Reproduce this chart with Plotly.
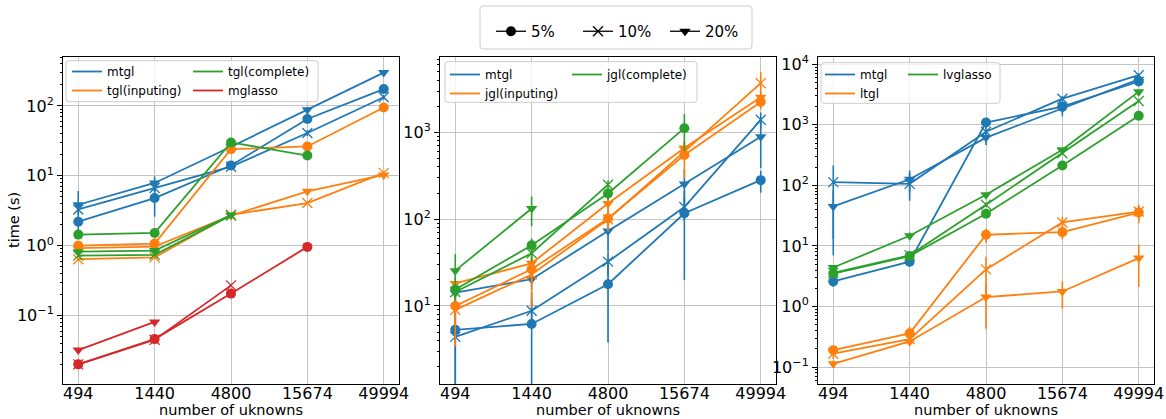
import plotly.graph_objects as go

W, H = 1166, 419

# ---------------- data ----------------
x_labels = ["494", "1440", "4800", "15674", "49994"]
pct_labels = ["5%", "10%", "20%"]

# Panel 1
p1_mtgl_5 = [2.2, 4.8, 14, 65, 174]
p1_mtgl_5_err = [0.3, 2.2, 1.5, 6, 15]
p1_mtgl_10 = [3.3, 6.7, 13.5, 41, 133]
p1_mtgl_10_err = [0.5, 0.8, 1, 4, 10]
p1_mtgl_20 = [3.85, 7.9, 26, 88, 300]
p1_mtgl_20_err = [2.2, 1.9, 2, 8, 25]
p1_tgli_5 = [1.0, 1.07, 24, 26.3, 95]
p1_tgli_5_err = [0.05, 0.05, 1, 1, 3]
p1_tgli_10 = [0.64, 0.68, 2.77, 4.07, 11]
p1_tgli_10_err = [0.03, 0.03, 0.1, 0.2, 0.5]
p1_tgli_20 = [0.92, 0.97, 2.7, 6.0, 10.3]
p1_tgli_20_err = [0.03, 0.03, 0.1, 0.3, 0.5]
p1_tglc_5 = [1.44, 1.52, 30, 19.5, None]
p1_tglc_5_err = [0.05, 0.05, 1.5, 1, 0]
p1_tglc_10 = [0.72, 0.74, 2.7, None, None]
p1_tglc_10_err = [0.03, 0.03, 0.1, 0, 0]
p1_tglc_20 = [0.82, 0.85, 2.75, None, None]
p1_tglc_20_err = [0.03, 0.03, 0.1, 0, 0]
p1_mgl_5 = [0.02, 0.046, 0.206, 0.96, None]
p1_mgl_5_err = [0.001, 0.002, 0.01, 0.03, 0]
p1_mgl_10 = [0.02, 0.045, 0.27, None, None]
p1_mgl_10_err = [0.001, 0.002, 0.01, 0, 0]
p1_mgl_20 = [0.032, 0.081, None, None, None]
p1_mgl_20_err = [0.001, 0.003, 0, 0, 0]

# Panel 2
p2_mtgl_5 = [5.3, 6.2, 17.8, 117, 282]
p2_mtgl_5_err = [8, 8, 14, 97, 80]
p2_mtgl_10 = [4.4, 8.8, 32.4, 138, 1400]
p2_mtgl_10_err = [6, 3, 10, 40, 300]
p2_mtgl_20 = [14.2, 20.3, 73, 254, 890]
p2_mtgl_20_err = [3, 5, 30, 120, 500]
p2_jgli_5 = [10, 26.5, 102, 550, 2250]
p2_jgli_5_err = [6.6, 17, 30, 250, 400]
p2_jgli_10 = [9, 23, 100, 600, 3700]
p2_jgli_10_err = [3, 5, 20, 100, 1300]
p2_jgli_20 = [18.2, 31, 152, 660, 2550]
p2_jgli_20_err = [3, 6, 30, 100, 400]
p2_jglc_5 = [15.5, 50, 198, 1120, None]
p2_jglc_5_err = [2, 10, 30, 510, 0]
p2_jglc_10 = [14.5, 40.5, 250, None, None]
p2_jglc_10_err = [2, 8, 30, 0, 0]
p2_jglc_20 = [25.5, 133, None, None, None]
p2_jglc_20_err = [14, 50, 0, 0, 0]

# Panel 3
p3_mtgl_5 = [2.6, 5.5, 1090, 2000, 5200]
p3_mtgl_5_err = [0.5, 1, 150, 300, 600]
p3_mtgl_10 = [113, 106, 770, 2700, 6600]
p3_mtgl_10_err = [100, 50, 200, 300, 500]
p3_mtgl_20 = [45, 126, 615, 1880, 5650]
p3_mtgl_20_err = [38, 50, 150, 500, 300]
p3_ltgl_5 = [0.19, 0.36, 15.3, 16.9, 35.6]
p3_ltgl_5_err = [0.03, 0.1, 4, 4, 12]
p3_ltgl_10 = [0.166, 0.29, 4.1, 24.4, 37]
p3_ltgl_10_err = [0.03, 0.05, 2.5, 6, 10]
p3_ltgl_20 = [0.113, 0.265, 1.43, 1.77, 6.3]
p3_ltgl_20_err = [0.015, 0.04, 1.0, 0.85, 4.2]
p3_lvg_5 = [3.5, 6.8, 34, 213, 1410]
p3_lvg_5_err = [0.3, 0.5, 3, 15, 100]
p3_lvg_10 = [3.6, 7.0, 48, 340, 2470]
p3_lvg_10_err = [0.3, 0.5, 4, 20, 150]
p3_lvg_20 = [4.4, 14.7, 70, 388, 3530]
p3_lvg_20_err = [0.4, 2, 5, 25, 200]

# ---------------- style ----------------
BLUE, ORANGE, GREEN, RED = "#1f77b4", "#ff7f0e", "#2ca02c", "#d62728"
FONT = "DejaVu Sans"


def px(x):
    return x / W


def py(y):
    return 1 - y / H


def marker_for(i, color):
    if i == 0:
        return dict(symbol="circle", size=10, color=color, line=dict(width=0))
    if i == 1:
        return dict(symbol="x-thin", size=10, color=color, line=dict(width=1.3, color=color))
    return dict(symbol="triangle-down", size=10, color=color, line=dict(width=0))


fig = go.Figure()


def add_method(ax, series, color):
    xa = "x" if ax == 1 else f"x{ax}"
    ya = "y" if ax == 1 else f"y{ax}"
    for i, (vals, errs) in enumerate(series):
        plus = [e if v is not None else 0 for v, e in zip(vals, errs)]
        minus = [(min(e, 0.9999 * v) if v is not None else 0) for v, e in zip(vals, errs)]
        fig.add_trace(go.Scatter(
            x=x_labels, y=vals, xaxis=xa, yaxis=ya, mode="lines+markers",
            line=dict(color=color, width=1.8), marker=marker_for(i, color),
            error_y=dict(type="data", symmetric=False, array=plus, arrayminus=minus,
                         color=color, thickness=1.6, width=0),
            showlegend=False, hoverinfo="skip"))


def add_legend_entry(ax, name, color, legend):
    xa = "x" if ax == 1 else f"x{ax}"
    ya = "y" if ax == 1 else f"y{ax}"
    fig.add_trace(go.Scatter(x=[None], y=[None], xaxis=xa, yaxis=ya, mode="lines",
                             line=dict(color=color, width=1.8), name=name,
                             legend=legend, showlegend=True))


# panel 1
add_method(1, [(p1_mtgl_5, p1_mtgl_5_err), (p1_mtgl_10, p1_mtgl_10_err), (p1_mtgl_20, p1_mtgl_20_err)], BLUE)
add_method(1, [(p1_tgli_5, p1_tgli_5_err), (p1_tgli_10, p1_tgli_10_err), (p1_tgli_20, p1_tgli_20_err)], ORANGE)
add_method(1, [(p1_tglc_5, p1_tglc_5_err), (p1_tglc_10, p1_tglc_10_err), (p1_tglc_20, p1_tglc_20_err)], GREEN)
add_method(1, [(p1_mgl_5, p1_mgl_5_err), (p1_mgl_10, p1_mgl_10_err), (p1_mgl_20, p1_mgl_20_err)], RED)
# panel 2
add_method(2, [(p2_mtgl_5, p2_mtgl_5_err), (p2_mtgl_10, p2_mtgl_10_err), (p2_mtgl_20, p2_mtgl_20_err)], BLUE)
add_method(2, [(p2_jgli_5, p2_jgli_5_err), (p2_jgli_10, p2_jgli_10_err), (p2_jgli_20, p2_jgli_20_err)], ORANGE)
add_method(2, [(p2_jglc_5, p2_jglc_5_err), (p2_jglc_10, p2_jglc_10_err), (p2_jglc_20, p2_jglc_20_err)], GREEN)
# panel 3
add_method(3, [(p3_mtgl_5, p3_mtgl_5_err), (p3_mtgl_10, p3_mtgl_10_err), (p3_mtgl_20, p3_mtgl_20_err)], BLUE)
add_method(3, [(p3_ltgl_5, p3_ltgl_5_err), (p3_ltgl_10, p3_ltgl_10_err), (p3_ltgl_20, p3_ltgl_20_err)], ORANGE)
add_method(3, [(p3_lvg_5, p3_lvg_5_err), (p3_lvg_10, p3_lvg_10_err), (p3_lvg_20, p3_lvg_20_err)], GREEN)

# legend entries
add_legend_entry(1, "mtgl", BLUE, "legend")
add_legend_entry(1, "tgl(inputing)", ORANGE, "legend")
add_legend_entry(1, "tgl(complete)", GREEN, "legend2")
add_legend_entry(1, "mglasso", RED, "legend2")
add_legend_entry(2, "mtgl", BLUE, "legend3")
add_legend_entry(2, "jgl(inputing)", ORANGE, "legend3")
add_legend_entry(2, "jgl(complete)", GREEN, "legend4")
add_legend_entry(3, "mtgl", BLUE, "legend5")
add_legend_entry(3, "ltgl", ORANGE, "legend5")
add_legend_entry(3, "lvglasso", GREEN, "legend6")

for i, lab in enumerate(pct_labels):
    m = marker_for(i, "black")
    m["size"] = 10
    fig.add_trace(go.Scatter(x=[None], y=[None], mode="lines+markers", name=lab,
                             line=dict(color="black", width=1.3), marker=m,
                             legend="legend7", showlegend=True))

# ---------------- axes ----------------
panels_x = [(63, 399), (440, 776), (818, 1154)]
y_top, y_bot = 57, 384
y_ranges = [(-1.98, 2.70), (0.10, 3.87), (-1.28, 4.12)]
major_exps = [[-1, 0, 1, 2], [1, 2, 3], [-1, 0, 1, 2, 3, 4]]


def sup(k):
    return "10<sup>" + (str(k) if k >= 0 else "\u2212" + str(-k)) + "</sup>"


layout = dict(
    width=W, height=H, margin=dict(l=0, r=0, t=0, b=0),
    paper_bgcolor="white", plot_bgcolor="white",
    font=dict(family=FONT, color="black"),
    showlegend=True,
)
for n in range(3):
    sfx = "" if n == 0 else str(n + 1)
    x0, x1 = panels_x[n]
    lo, hi = y_ranges[n]
    minors = []
    for e in range(int(lo) - 2, int(hi) + 2):
        for k in range(2, 10):
            minors.append(k * 10 ** e)
    layout["xaxis" + sfx] = dict(
        domain=[px(x0), px(x1)], anchor="y" + sfx, type="category",
        range=[-0.2, 4.2], showline=True, mirror=True, linecolor="black", linewidth=1,
        ticks="", showgrid=True, ticklabelstandoff=-5,
        gridcolor="#c4c4c4", gridwidth=1, zeroline=False,
        tickfont=dict(size=16, family=FONT), automargin=False,
    )
    layout["yaxis" + sfx] = dict(
        domain=[py(y_bot), py(y_top)], anchor="x" + sfx, type="log",
        range=[lo, hi], showline=True, mirror=True, linecolor="black", linewidth=1,
        ticks="outside", ticklen=5, tickcolor="black", showgrid=True,
        gridcolor="#c4c4c4", gridwidth=1, zeroline=False,
        tickmode="array", tickvals=[10 ** k for k in major_exps[n]],
        ticktext=[sup(k) for k in major_exps[n]],
        tickfont=dict(size=16, family=FONT), automargin=False,
        minor=dict(tickmode="array", tickvals=minors, ticks="outside", ticklen=2.5,
                   tickcolor="black", showgrid=False),
    )

# legends
def col_legend(text_x, row1_y):
    return dict(x=px(text_x - 40), y=py(row1_y - 12.3), xanchor="left", yanchor="top",
                bgcolor="rgba(0,0,0,0)", borderwidth=0, font=dict(size=12, family=FONT),
                tracegroupgap=0, itemwidth=30, orientation="v")

layout["legend"] = col_legend(107, 69.3)
layout["legend2"] = col_legend(228, 69.3)
layout["legend3"] = col_legend(485, 72.3)
layout["legend4"] = col_legend(607, 72.3)
layout["legend5"] = col_legend(860, 72.3)
layout["legend6"] = col_legend(943, 72.3)
layout["legend7"] = dict(x=px(491), y=py(15), xanchor="left", yanchor="top",
                         orientation="h", bgcolor="rgba(0,0,0,0)", borderwidth=0,
                         font=dict(size=15, family=FONT), entrywidth=42,
                         itemwidth=30)


def rounded_box(x0, y0, x1, y1, r=3):
    X0, X1 = px(x0), px(x1)
    Y0, Y1 = py(y0), py(y1)
    rx, ry = r / W, r / H
    return (f"M {X0 + rx},{Y0} L {X1 - rx},{Y0} Q {X1},{Y0} {X1},{Y0 - ry} "
            f"L {X1},{Y1 + ry} Q {X1},{Y1} {X1 - rx},{Y1} L {X0 + rx},{Y1} "
            f"Q {X0},{Y1} {X0},{Y1 + ry} L {X0},{Y0 - ry} Q {X0},{Y0} {X0 + rx},{Y0} Z")


boxes = [(66, 60.7, 318, 101.7), (445, 61.7, 697, 102.3), (821, 62.7, 1000, 103.3),
         (480, 6, 752, 49)]
layout["shapes"] = [dict(type="path", xref="paper", yref="paper", path=rounded_box(*b),
                         line=dict(color="#cccccc", width=1),
                         fillcolor="rgba(255,255,255,0.8)", layer="above")
                    for b in boxes]

ann = []
for x0, x1 in panels_x:
    ann.append(dict(text="number of uknowns", x=px((x0 + x1) / 2), y=py(410),
                    xref="paper", yref="paper", showarrow=False, xanchor="center",
                    yanchor="middle", font=dict(size=14.5, family=FONT)))
ann.append(dict(text="time (s)", x=px(14), y=py(220), xref="paper", yref="paper",
                showarrow=False, textangle=-90, xanchor="center", yanchor="middle",
                font=dict(size=14.5, family=FONT)))
layout["annotations"] = ann

fig.update_layout(**layout)
fig.write_html("out.html")
